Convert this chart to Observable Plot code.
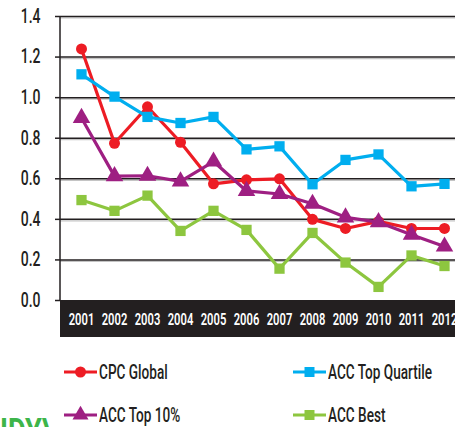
<!DOCTYPE html>
<html>
<head>
<meta charset="utf-8">
<script src="https://cdn.jsdelivr.net/npm/d3@7"></script>
<script src="https://cdn.jsdelivr.net/npm/@observablehq/plot@0.6"></script>
<style>
  html, body { margin: 0; padding: 0; width: 455px; height: 427px; overflow: hidden; background: #fff; }
  body { position: relative; font-family: Roboto, "Noto Sans", sans-serif; }
  #band { position: absolute; left: 60px; top: 300px; width: 395px; height: 37px; background: #231f20; }
  #chart { position: absolute; left: 0; top: 0; }
  .leg { position: absolute; display: flex; align-items: center; font-size: 20px; font-weight: 500; color: #231f20; white-space: nowrap; }
  .leg svg { display: block; margin-right: 2px; }
  .leg span { display: inline-block; transform: scaleX(0.68); transform-origin: left center; }
  #frag { position: absolute; left: 0px; top: 413px; font-size: 34px; font-weight: bold; color: #3db54a; line-height: 1; white-space: nowrap; transform: scaleX(0.8); transform-origin: left top; }
</style>
</head>
<body>
<div id="band"></div>
<div id="chart"></div>
<div id="legend"></div>
<div id="frag">IDY\</div>
<script>
const years = ["2001","2002","2003","2004","2005","2006","2007","2008","2009","2010","2011","2012"];
const cpcGlobal   = [1.24, 0.775, 0.955, 0.78, 0.575, 0.595, 0.60, 0.40, 0.355, 0.39, 0.355, 0.355];
const accTopQuart = [1.115, 1.005, 0.905, 0.875, 0.905, 0.745, 0.76, 0.573, 0.693, 0.72, 0.563, 0.575];
const accTop10    = [0.90, 0.613, 0.615, 0.587, 0.685, 0.54, 0.525, 0.477, 0.41, 0.386, 0.324, 0.266];
const accBest     = [0.495, 0.442, 0.517, 0.343, 0.442, 0.348, 0.157, 0.333, 0.187, 0.067, 0.222, 0.17];
const yTicks = [0, 0.2, 0.4, 0.6, 0.8, 1.0, 1.2, 1.4];

const seriesNames = ["CPC Global", "ACC Top Quartile", "ACC Top 10%", "ACC Best"];
const seriesColors = ["#ed1c24", "#00aeef", "#9e1f82", "#8dc63f"];
const seriesSymbols = ["circle", "square", "triangle", "square"];
const seriesValues = [cpcGlobal, accTopQuart, accTop10, accBest];

const rows = [];
seriesNames.forEach((s, i) => years.forEach((y, j) => rows.push({series: s, year: y, value: seriesValues[i][j]})));

const marks = [
  Plot.ruleY(yTicks.filter(d => d > 0), {stroke: "#c4c4c4", strokeWidth: 1.2, dy: 1.5}),
  Plot.ruleY(yTicks.filter(d => d > 0), {stroke: "#231f20", strokeWidth: 1.5}),
  Plot.axisY({ticks: yTicks, tickFormat: d => d.toFixed(1), tickSize: 5, tickPadding: 15, fontSize: 20, fontWeight: 500, fill: "#231f20", stroke: "#231f20", label: null}),
  Plot.axisX({tickSize: 0, tickPadding: 13, fontSize: 16, fontWeight: 600, fill: "#fff", label: null})
];
seriesNames.forEach((s, i) => {
  const d = rows.filter(r => r.series === s);
  marks.push(Plot.line(d, {x: "year", y: "value", stroke: seriesColors[i], strokeWidth: 3.2}));
  marks.push(Plot.dot(d, {x: "year", y: "value", fill: seriesColors[i], symbol: seriesSymbols[i],
    r: seriesSymbols[i] === "circle" ? 5.5 : (seriesSymbols[i] === "triangle" ? 6.5 : 5.8)}));
});

const chart = Plot.plot({
  width: 455,
  height: 340,
  marginTop: 16,
  marginBottom: 40,
  marginLeft: 60,
  marginRight: 0,
  style: {background: "transparent", fontFamily: "Roboto, 'Noto Sans', sans-serif", overflow: "visible"},
  x: {type: "point", domain: years, range: [77, 448], padding: 0},
  y: {domain: [0, 1.4]},
  marks
});
// condense tick label text (the reference uses a condensed face)
d3.select(chart).selectAll('g[aria-label$="tick label"] text').each(function() {
  const t = this.getAttribute("transform") || "";
  this.setAttribute("transform", t + " scale(0.7,1)");
});
d3.select(chart).selectAll('g[aria-label="y-axis tick"] path').attr("stroke-width", 1.5);
// vertical axis line
d3.select(chart).append("line")
  .attr("x1", 60).attr("x2", 60).attr("y1", 16).attr("y2", 300)
  .attr("stroke", "#231f20").attr("stroke-width", 1.5);
document.getElementById("chart").appendChild(chart);

// legend
const legPos = [[64, 372], [293, 372], [64, 415], [293, 415]];
const legend = document.getElementById("legend");
seriesNames.forEach((s, i) => {
  const div = document.createElement("div");
  div.className = "leg";
  div.style.left = legPos[i][0] + "px";
  div.style.top = (legPos[i][1] - 12) + "px";
  div.style.height = "24px";
  const svg = d3.create("svg").attr("width", 33).attr("height", 24);
  svg.append("line").attr("x1", 0).attr("x2", 33).attr("y1", 12).attr("y2", 12).attr("stroke", seriesColors[i]).attr("stroke-width", 3.2);
  const sym = seriesSymbols[i] === "circle" ? d3.symbolCircle : seriesSymbols[i] === "square" ? d3.symbolSquare : d3.symbolTriangle;
  const size = seriesSymbols[i] === "circle" ? Math.PI * 5.5 * 5.5 : (seriesSymbols[i] === "triangle" ? 110 : 100);
  svg.append("path").attr("transform", "translate(16.5,12)").attr("d", d3.symbol(sym, size)()).attr("fill", seriesColors[i]);
  div.appendChild(svg.node());
  const t = document.createElement("span");
  t.textContent = s;
  div.appendChild(t);
  legend.appendChild(div);
});
</script>
</body>
</html>
